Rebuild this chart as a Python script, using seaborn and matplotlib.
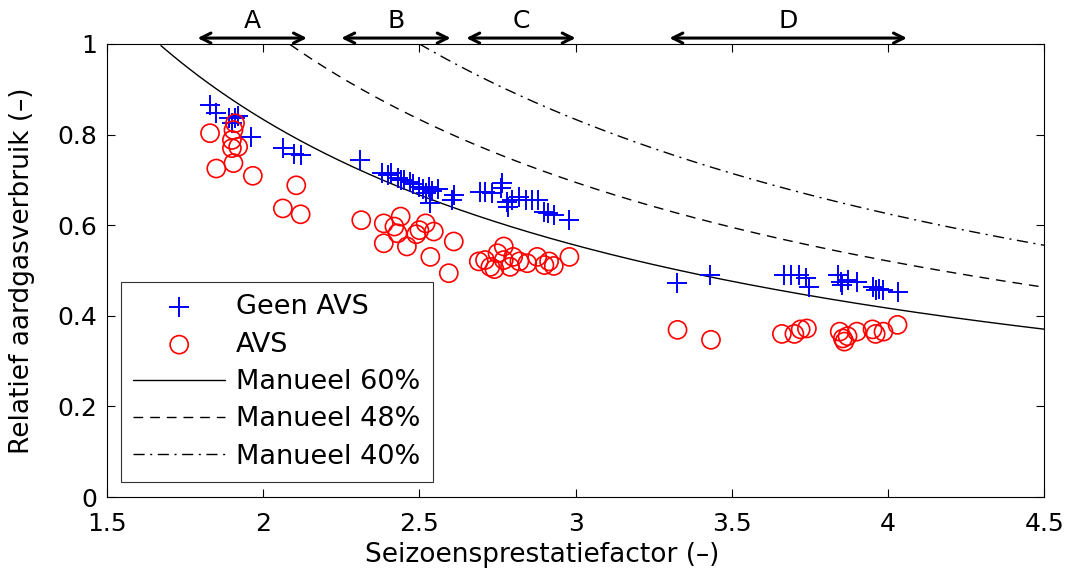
import matplotlib
matplotlib.use("Agg")
import matplotlib.pyplot as plt
import seaborn as sns
import numpy as np
import pandas as pd

# Geen AVS (blue crosses)
geen_x = [1.83, 1.85, 1.89, 1.91, 1.90, 1.92, 1.96, 2.065, 2.10, 2.12,
          2.31, 2.38, 2.40, 2.41, 2.43, 2.44, 2.45, 2.47, 2.48, 2.50, 2.51, 2.52,
          2.53, 2.54, 2.56, 2.535, 2.605, 2.61,
          2.695, 2.71, 2.733, 2.76, 2.765, 2.78, 2.785, 2.797, 2.818, 2.84, 2.86,
          2.88, 2.90, 2.91, 2.93, 2.98,
          3.324, 3.43, 3.668, 3.69, 3.716, 3.737, 3.748, 3.84, 3.85, 3.853, 3.87,
          3.90, 3.95, 3.96, 3.97, 3.985, 4.03]
geen_y = [0.865, 0.847, 0.836, 0.836, 0.825, 0.84, 0.795, 0.77, 0.758, 0.755,
          0.744, 0.715, 0.71, 0.715, 0.705, 0.70, 0.70, 0.695, 0.69, 0.685, 0.68, 0.67,
          0.685, 0.675, 0.68, 0.65, 0.655, 0.667,
          0.674, 0.674, 0.67, 0.681, 0.692, 0.652, 0.64, 0.656, 0.663, 0.655, 0.656,
          0.656, 0.63, 0.626, 0.622, 0.611,
          0.473, 0.49, 0.49, 0.49, 0.49, 0.483, 0.464, 0.49, 0.475, 0.468, 0.478,
          0.475, 0.464, 0.457, 0.46, 0.457, 0.453]

# AVS (red circles)
avs_x = [1.83, 1.91, 1.905, 1.90, 1.92, 1.90, 1.85, 1.905, 1.967, 2.106, 2.063, 2.12,
         2.314, 2.386, 2.386, 2.42, 2.44, 2.43, 2.46, 2.49, 2.50, 2.52, 2.546, 2.535,
         2.61, 2.594,
         2.69, 2.71, 2.727, 2.75, 2.77, 2.77, 2.79, 2.82, 2.845, 2.877, 2.90, 2.915,
         2.93, 2.98, 2.74, 2.80,
         3.326, 3.433, 3.66, 3.70, 3.72, 3.74, 3.845, 3.855, 3.86, 3.87, 3.90, 3.95,
         3.96, 3.985, 4.03]
avs_y = [0.803, 0.825, 0.81, 0.788, 0.773, 0.77, 0.725, 0.737, 0.709, 0.688, 0.637, 0.624,
         0.611, 0.604, 0.56, 0.597, 0.619, 0.582, 0.553, 0.58, 0.589, 0.604, 0.586, 0.53,
         0.564, 0.494,
         0.52, 0.523, 0.508, 0.538, 0.553, 0.523, 0.508, 0.52, 0.516, 0.53, 0.512, 0.52,
         0.51, 0.53, 0.503, 0.53,
         0.369, 0.347, 0.36, 0.36, 0.37, 0.372, 0.365, 0.35, 0.343, 0.355, 0.365, 0.37,
         0.36, 0.365, 0.38]

# manual efficiency reference curves: relative use = 1 / (eta * SPF)
manual_eta = [0.60, 0.48, 0.40]
manual_labels = ["Manueel 60%", "Manueel 48%", "Manueel 40%"]
manual_dashes = ["-", (0, (7, 5)), (0, (8, 4, 1.5, 4))]

# ranges on top
range_labels = ["A", "B", "C", "D"]
range_start = [1.79, 2.25, 2.65, 3.30]
range_end = [2.14, 2.60, 3.00, 4.06]

sns.set_style("ticks")
plt.rcParams["font.family"] = ["DejaVu Sans"]
plt.rcParams["text.color"] = "black"
plt.rcParams["axes.labelcolor"] = "black"
plt.rcParams["xtick.color"] = "black"
plt.rcParams["ytick.color"] = "black"

fig = plt.figure(figsize=(10.69, 5.79), dpi=100)
ax = fig.add_axes([0.100, 0.1416, 0.877, 0.7825])

sns.scatterplot(x=geen_x, y=geen_y, ax=ax, marker="+", s=190, color="#0000ff",
                linewidth=1.4, label="Geen AVS", zorder=3)
sns.scatterplot(x=avs_x, y=avs_y, ax=ax, marker="o", s=170, facecolor="none",
                edgecolor="#ff0000", linewidth=1.2, label="AVS", zorder=3)

spf = np.linspace(1.5, 4.5, 400)
for eta, lab, ls in zip(manual_eta, manual_labels, manual_dashes):
    curve = pd.DataFrame({"x": spf, "y": 1.0 / (eta * spf)})
    curve = curve[curve["y"] <= 1.0]
    sns.lineplot(data=curve, x="x", y="y", ax=ax, color="black", linewidth=1.0,
                 linestyle=ls, label=lab)

for lab, x0, x1 in zip(range_labels, range_start, range_end):
    ax.annotate("", xy=(x0, 1.013), xytext=(x1, 1.013), xycoords="data",
                arrowprops=dict(arrowstyle="<->", color="black", lw=2.2,
                                shrinkA=0, shrinkB=0, mutation_scale=18),
                annotation_clip=False)
    ax.text((x0 + x1) / 2, 1.05, lab, ha="center", va="center", fontsize=18,
            clip_on=False)

ax.set_xlim(1.5, 4.5)
ax.set_ylim(0, 1)
ax.set_xticks([1.5, 2, 2.5, 3, 3.5, 4, 4.5])
ax.set_xticklabels(["1.5", "2", "2.5", "3", "3.5", "4", "4.5"])
ax.set_yticks([0, 0.2, 0.4, 0.6, 0.8, 1])
ax.set_yticklabels(["0", "0.2", "0.4", "0.6", "0.8", "1"])
ax.tick_params(direction="in", top=True, right=True, labelsize=18, length=6,
               width=0.8, colors="black")
ax.tick_params(axis="y", pad=7)
ax.tick_params(axis="x", pad=11)
for sp in ax.spines.values():
    sp.set_visible(True)
    sp.set_linewidth(0.8)
    sp.set_color("black")

ax.set_xlabel("Seizoensprestatiefactor (\u2013)", fontsize=19)
ax.set_ylabel("Relatief aardgasverbruik (\u2013)", fontsize=19, labelpad=16)
ax.xaxis.set_label_coords(0.464, -0.099)

leg = ax.legend(loc="lower left", bbox_to_anchor=(0.015, 0.033), fontsize=19.5,
                frameon=True, fancybox=False, edgecolor="black",
                handlelength=3.4, handletextpad=0.4, borderpad=0.45,
                labelspacing=0.42, borderaxespad=0)
leg.get_frame().set_linewidth(0.8)

fig.savefig("out.png", dpi=100)
plt.close(fig)
